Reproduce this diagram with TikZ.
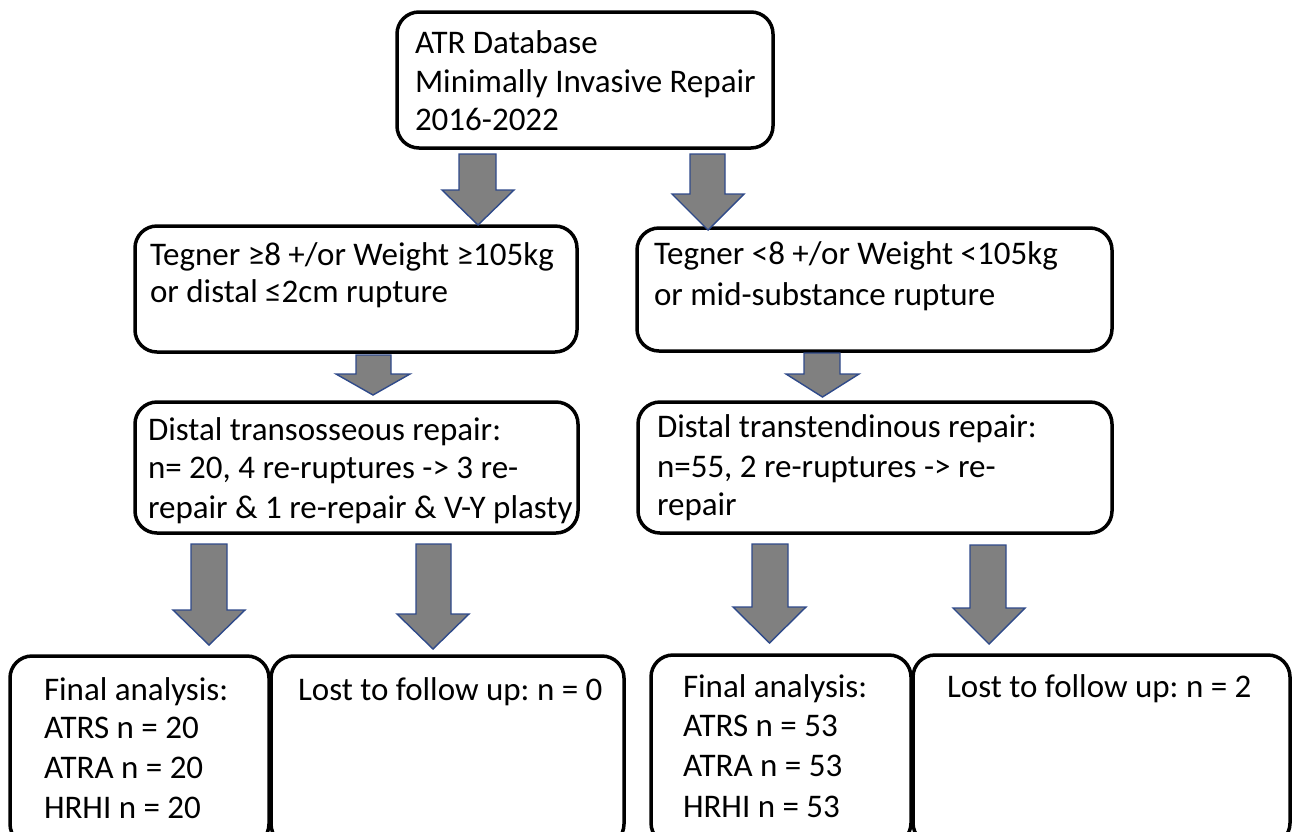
\documentclass[tikz,border=0pt]{standalone}
\usepackage{fontspec}
\setmainfont{Carlito}
\frenchspacing
\tikzset{
  box/.style={draw=black, line width=3.5pt, rounded corners=22pt, fill=white,
    anchor=north west, inner sep=0pt, outer sep=0pt},
  txt/.style={anchor=base west, inner sep=0pt, outer sep=0pt,
    font=\fontsize{33}{39}\selectfont},
  blockarrow/.style={fill=arrowgray, draw=arrowblue, line width=1.4pt, line join=miter}
}
\definecolor{arrowgray}{HTML}{808080}
\definecolor{arrowblue}{HTML}{2F4A8A}
% #1 shaft left, #2 shaft right, #3 shaft top, #4 head left, #5 head right, #6 head y, #7 tip y
\newcommand{\downarrowshape}[7]{%
  \draw[blockarrow] (#1,#3) -- (#2,#3) -- (#2,#6) -- (#5,#6) -- ({(#4+#5)/2},#7)
    -- (#4,#6) -- (#1,#6) -- cycle;}
\begin{document}
\begin{tikzpicture}[x=1pt, y=-1pt]
\useasboundingbox (0,0) rectangle (1292,831);
\clip (0,0) rectangle (1292,831);

% source
\node[box, minimum width=376pt, minimum height=136pt] (src) at (397,12) {};
\node[txt] (src1) at (415,53) {ATR Database};
\node[txt] (src2) at (415,92) {Minimally Invasive Repair};
\node[txt] (src3) at (415,130) {2016-2022};

% selection criteria
\node[box, minimum width=442pt, minimum height=126pt] (selA) at (135,226) {};
\node[txt] (selA1) at (150,265) {Tegner ≥8 +/or Weight ≥105kg};
\node[txt] (selA2) at (150,302) {or distal ≤2cm rupture};

\node[box, minimum width=475pt, minimum height=123pt] (selB) at (637,228) {};
\node[txt] (selB1) at (654,264) {Tegner <8 +/or Weight <105kg};
\node[txt] (selB2) at (654,305) {or mid-substance rupture};

% repair technique
\node[box, minimum width=443pt, minimum height=131pt] (repA) at (135,402) {};
\node[txt] (repA1) at (148,440) {Distal transosseous repair:};
\node[txt] (repA2) at (148,478) {n= 20, 4 re-ruptures -> 3 re-};
\node[txt] (repA3) at (148,518) {repair \& 1 re-repair \& V-Y plasty};

\node[box, minimum width=474pt, minimum height=131pt] (repB) at (638,402) {};
\node[txt] (repB1) at (657,437) {Distal transtendinous repair:};
\node[txt] (repB2) at (657,477) {n=55, 2 re-ruptures -> re-};
\node[txt] (repB3) at (657,515) {repair};

% outcomes
\node[box, minimum width=259pt, minimum height=190pt] (finA) at (10,656) {};
\node[txt] (finA1) at (44,700) {Final analysis:};
\node[txt] (finA2) at (44,738) {ATRS n = 20};
\node[txt] (finA3) at (44,778) {ATRA n = 20};
\node[txt] (finA4) at (44,818) {HRHI n = 20};

\node[box, minimum width=353pt, minimum height=190pt] (lostA) at (271,656) {};
\node[txt] (lostA1) at (298,700) {Lost to follow up: n = 0};

\node[box, minimum width=260pt, minimum height=190pt] (finB) at (651,655) {};
\node[txt] (finB1) at (683,697) {Final analysis:};
\node[txt] (finB2) at (683,736) {ATRS n = 53};
\node[txt] (finB3) at (683,776) {ATRA n = 53};
\node[txt] (finB4) at (683,817) {HRHI n = 53};

\node[box, minimum width=377pt, minimum height=190pt] (lostB) at (913,655) {};
\node[txt] (lostB1) at (947,697) {Lost to follow up: n = 2};

% block arrows
\downarrowshape{459}{496}{154}{442}{514}{190}{225}
\downarrowshape{690}{725}{154}{672}{744}{194}{230}
\downarrowshape{356}{391}{355}{336}{410}{374}{395}
\downarrowshape{804}{840}{353}{786}{859}{374}{397}
\downarrowshape{191}{227}{544}{173}{245}{610}{645}
\downarrowshape{416}{451}{544}{397}{469}{614}{649}
\downarrowshape{752}{788}{544}{733}{806}{607}{643}
\downarrowshape{970}{1006}{545}{953}{1025}{608}{644}
\end{tikzpicture}
\end{document}
